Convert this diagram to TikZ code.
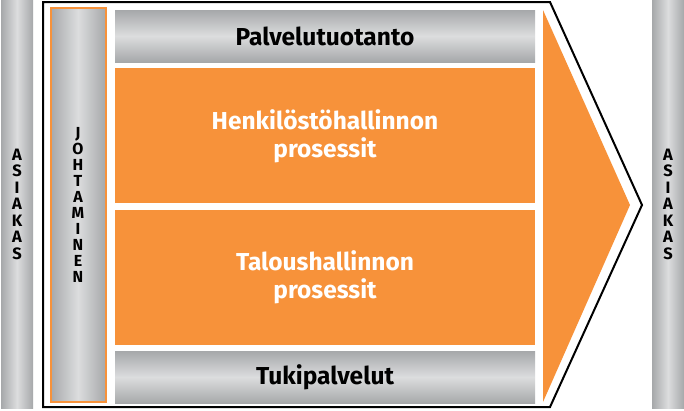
\documentclass[tikz,border=0pt]{standalone}
\usepackage{fontspec}
\setmainfont{Fira Sans}
\usetikzlibrary{positioning}
\definecolor{orangefill}{HTML}{F7923A}
\definecolor{grayedge}{HTML}{A6A8AA}
\definecolor{graylight}{HTML}{DCDDDE}
\tikzstyle{sidebar} = [rectangle, minimum width=32pt, minimum height=408pt, inner sep=0pt, left color=grayedge, right color=grayedge, middle color=graylight, align=center, font=\bfseries\fontsize{16.5}{16.5}\selectfont]
\tikzstyle{lane} = [rectangle, minimum width=420pt, minimum height=52pt, inner sep=0pt, top color=grayedge, bottom color=grayedge, middle color=graylight, font=\bfseries\fontsize{24.5}{28}\selectfont]
\tikzstyle{process} = [rectangle, minimum width=420pt, minimum height=135pt, inner sep=0pt, fill=orangefill, text=white, align=center, font=\bfseries\fontsize{24.5}{28}\selectfont]
\tikzstyle{outline} = [draw=black, line width=2pt, line join=miter]

\begin{document}
\begin{tikzpicture}[x=1pt, y=-1pt, node distance=6pt]
        \useasboundingbox (0,0) rectangle (684,410);
        \fill[white] (0,0) rectangle (684,410);
        \node (asiakasL) [sidebar] at (17,204) {A\\S\\I\\A\\K\\A\\S};
        \node (asiakasR) [sidebar] at (668,204) {A\\S\\I\\A\\K\\A\\S};
        \draw [outline] (43,2) -- (550,2) -- (642,205) -- (550,407) -- (43,407) -- cycle;
        \node (johto) [sidebar, minimum width=55pt, minimum height=394pt, draw=orangefill, line width=2pt, font=\bfseries\fontsize{16}{16}\selectfont] at (78,205) {J\\O\\H\\T\\A\\M\\I\\N\\E\\N};
        \node (palvelu) [lane] at (325,36) {Palvelutuotanto};
        \node (henk) [process, below=of palvelu] {Henkilöstöhallinnon\\prosessit};
        \node (talous) [process, below=of henk] {Taloushallinnon\\prosessit};
        \node (tuki) [lane, below=of talous] {Tukipalvelut};
        \fill [orangefill] (543,10) -- (630,205) -- (543,402) -- cycle;
\end{tikzpicture}
\end{document}
